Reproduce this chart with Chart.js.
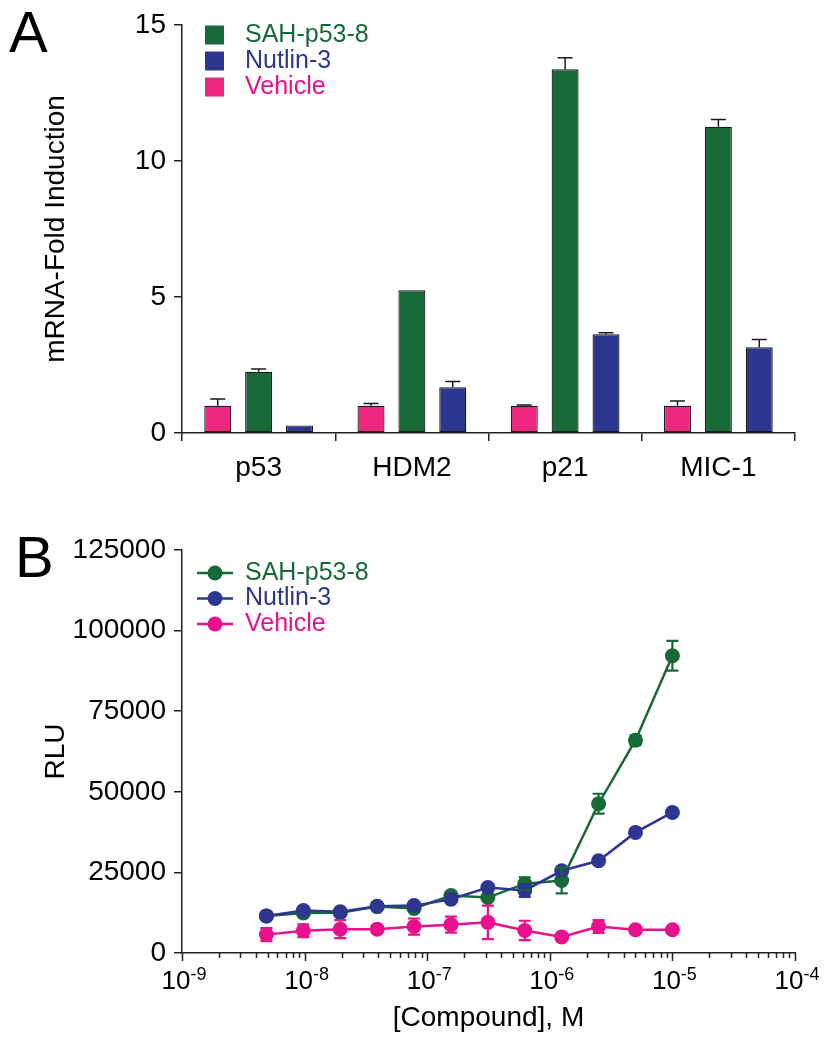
<!DOCTYPE html>
<html>
<head>
<meta charset="utf-8">
<script src="https://cdn.jsdelivr.net/npm/chart.js@4"></script>
<style>
  body { margin: 0; background: #fff; }
  .panel { position: relative; width: 829px; }
</style>
</head>
<body>
<div class="panel" style="height:490px"><canvas id="chartA"></canvas></div>
<div class="panel" style="height:560px"><canvas id="chartB"></canvas></div>
<script>
// Panel A data: mRNA fold induction
const genes = ['p53', 'HDM2', 'p21', 'MIC-1'];
const vehicleFold = [1.0, 1.0, 1.0, 1.0];
const vehicleFoldErr = [0.25, 0.08, 0.03, 0.18];
const sahFold = [2.25, 5.25, 13.37, 11.26];
const sahFoldErr = [0.1, 0, 0.43, 0.27];
const nutlinFold = [0.28, 1.68, 3.63, 3.15];
const nutlinFoldErr = [0, 0.21, 0.06, 0.29];
const foldTicks = [0, 5, 10, 15];

// Panel B data: luciferase RLU vs concentration
const concentrations = [4.88e-9, 9.77e-9, 1.953e-8, 3.906e-8, 7.8125e-8, 1.5625e-7, 3.125e-7, 6.25e-7, 1.25e-6, 2.5e-6, 5e-6, 1e-5];
const sahRLU = [11500, 12400, 12500, 14400, 13800, 17800, 17200, 21500, 22500, 46300, 66000, 92200];
const sahRLUErr = [0, 0, 0, 0, 0, 0, 0, 2000, 4000, 3100, 1500, 4600];
const nutlinRLU = [11500, 13200, 12800, 14500, 14700, 16700, 20300, 19400, 25500, 28600, 37400, 43600];
const nutlinRLUErr = [0, 0, 0, 0, 0, 0, 0, 2000, 0, 0, 0, 0];
const vehicleRLU = [5700, 6900, 7400, 7400, 8200, 8800, 9500, 7000, 5000, 8200, 7200, 7200];
const vehicleRLUErr = [2000, 2000, 2800, 0, 2500, 2500, 5200, 3000, 0, 2000, 0, 0];
const rluTicks = [0, 25000, 50000, 75000, 100000, 125000];
const decades = [-9, -8, -7, -6, -5, -4];

const GREEN = '#176937';
const BLUE = '#2E3790';
const PINK_BAR = '#EC2780';
const PINK = '#E8108C';
const AXIS = '#222';
const FONT = 'Arial, "Liberation Sans", sans-serif';

// error bars from dataset.errors, upward only for bars
const errorBars = {
  id: 'errorBars',
  afterDatasetsDraw(chart) {
    const ctx = chart.ctx;
    chart.data.datasets.forEach((ds, i) => {
      if (!ds.errors) return;
      const meta = chart.getDatasetMeta(i);
      const yScale = chart.scales[meta.yAxisID];
      ctx.save();
      ctx.strokeStyle = ds.errorColor;
      ctx.lineWidth = ds.errorWidth;
      meta.data.forEach((el, j) => {
        const err = ds.errors[j];
        if (!err) return;
        const v = chart.config.type === 'bar' ? ds.data[j] : ds.data[j].y;
        const yTop = yScale.getPixelForValue(v + err);
        const yBot = ds.upOnly ? el.y : yScale.getPixelForValue(v - err);
        const cap = ds.capWidth / 2;
        ctx.beginPath();
        ctx.moveTo(el.x, yBot);
        ctx.lineTo(el.x, yTop);
        ctx.moveTo(el.x - cap, yTop);
        ctx.lineTo(el.x + cap, yTop);
        if (!ds.upOnly) {
          ctx.moveTo(el.x - cap, yBot);
          ctx.lineTo(el.x + cap, yBot);
        }
        ctx.stroke();
      });
      ctx.restore();
    });
  }
};

// legend + panel letter drawn at fixed spots
const decor = {
  id: 'decor',
  afterDraw(chart, args, opts) {
    const ctx = chart.ctx;
    ctx.save();
    ctx.fillStyle = '#000';
    ctx.font = '58px ' + FONT;
    ctx.textBaseline = 'alphabetic';
    ctx.fillText(opts.letter, opts.letterX, opts.letterY);
    ctx.font = '25px ' + FONT;
    ctx.textBaseline = 'middle';
    opts.order.forEach((idx, k) => {
      const ds = chart.data.datasets[idx];
      const y = opts.y + k * opts.step;
      if (opts.kind === 'box') {
        ctx.fillStyle = ds.backgroundColor;
        ctx.fillRect(opts.x, y - 9.5, 19, 19);
      } else {
        ctx.strokeStyle = ds.borderColor;
        ctx.lineWidth = 2.5;
        ctx.beginPath();
        ctx.moveTo(opts.x - 18, y);
        ctx.lineTo(opts.x + 18, y);
        ctx.stroke();
        ctx.fillStyle = ds.borderColor;
        ctx.beginPath();
        ctx.arc(opts.x, y, 7.5, 0, Math.PI * 2);
        ctx.fill();
      }
      ctx.fillStyle = ds.textColor;
      ctx.fillText(ds.label, opts.textX, y);
    });
    ctx.restore();
  }
};

// log axis ticks (long at decades) and 10^n labels
const logAxisLabels = {
  id: 'logAxisLabels',
  afterDraw(chart) {
    const xs = chart.scales.x;
    const ctx = chart.ctx;
    ctx.save();
    ctx.strokeStyle = AXIS;
    ctx.lineWidth = 1.5;
    ctx.beginPath();
    xs.ticks.forEach(t => {
      const px = Math.round(xs.getPixelForValue(t.value)) + 0.5;
      const major = decades.some(d => Math.abs(Math.log10(t.value) - d) < 1e-6);
      ctx.moveTo(px, xs.top);
      ctx.lineTo(px, xs.top + (major ? 8 : 5));
    });
    ctx.stroke();
    ctx.fillStyle = '#000';
    ctx.textBaseline = 'alphabetic';
    decades.forEach(d => {
      const px = xs.getPixelForValue(Math.pow(10, d));
      ctx.font = '26px ' + FONT;
      const wBase = ctx.measureText('10').width;
      ctx.font = '18px ' + FONT;
      const exp = '-' + Math.abs(d);
      const wExp = ctx.measureText(exp).width;
      const x0 = px - (wBase + wExp) / 2 + 2;
      ctx.font = '26px ' + FONT;
      ctx.fillText('10', x0, xs.top + 36);
      ctx.font = '18px ' + FONT;
      ctx.fillText(exp, x0 + wBase, xs.top + 27);
    });
    ctx.restore();
  }
};

const tickFont = { family: FONT, size: 28 };

new Chart(document.getElementById('chartA'), {
  type: 'bar',
  data: {
    labels: genes,
    datasets: [
      { label: 'Vehicle', data: vehicleFold, errors: vehicleFoldErr, backgroundColor: PINK_BAR, textColor: PINK },
      { label: 'SAH-p53-8', data: sahFold, errors: sahFoldErr, backgroundColor: GREEN, textColor: GREEN },
      { label: 'Nutlin-3', data: nutlinFold, errors: nutlinFoldErr, backgroundColor: BLUE, textColor: BLUE }
    ].map(ds => Object.assign(ds, {
      borderColor: '#1a1a1a', borderWidth: 1.2, borderSkipped: false,
      barPercentage: 0.66, categoryPercentage: 0.8,
      errorColor: '#1a1a1a', errorWidth: 1.5, capWidth: 15, upOnly: true
    }))
  },
  options: {
    responsive: true,
    maintainAspectRatio: false,
    animation: false,
    layout: { padding: { top: 25, right: 34, left: 0, bottom: 0 } },
    plugins: {
      legend: { display: false },
      tooltip: { enabled: false },
      decor: { letter: 'A', letterX: 9, letterY: 52, kind: 'box', order: [1, 2, 0], x: 205, y: 35, step: 26, textX: 245 }
    },
    scales: {
      x: {
        offset: true,
        grid: { offset: true, drawOnChartArea: false, tickLength: 8, color: AXIS, lineWidth: 1.5 },
        border: { color: AXIS, width: 1.5 },
        ticks: { font: tickFont, color: '#000', padding: 10, maxRotation: 0 },
        afterFit: s => { s.height = 57; }
      },
      y: {
        min: 0, max: 15,
        afterBuildTicks: s => { s.ticks = foldTicks.map(v => ({ value: v })); },
        grid: { drawOnChartArea: false, tickLength: 8, color: AXIS, lineWidth: 1.5 },
        border: { color: AXIS, width: 1.5 },
        ticks: { font: tickFont, color: '#000', padding: 8 },
        title: { display: true, text: 'mRNA-Fold Induction', font: tickFont, color: '#000', padding: { top: 39 } },
        afterFit: s => { s.width = 182; }
      }
    }
  },
  plugins: [errorBars, decor]
});

const logTicks = [];
decades.forEach(d => {
  for (let m = 1; m <= 9; m++) {
    if (d === -4 && m > 1) break;
    logTicks.push(m * Math.pow(10, d));
  }
});

function points(ys) {
  return concentrations.map((c, i) => ({ x: c, y: ys[i] }));
}

new Chart(document.getElementById('chartB'), {
  type: 'line',
  data: {
    datasets: [
      { label: 'SAH-p53-8', data: points(sahRLU), errors: sahRLUErr, borderColor: GREEN, backgroundColor: GREEN, textColor: GREEN, order: 2 },
      { label: 'Nutlin-3', data: points(nutlinRLU), errors: nutlinRLUErr, borderColor: BLUE, backgroundColor: BLUE, textColor: BLUE, order: 1 },
      { label: 'Vehicle', data: points(vehicleRLU), errors: vehicleRLUErr, borderColor: PINK, backgroundColor: PINK, textColor: PINK, order: 3 }
    ].map(ds => Object.assign(ds, {
      borderWidth: 2.5, pointRadius: 7.5, pointBorderWidth: 0, pointBackgroundColor: ds.borderColor,
      tension: 0, errorColor: ds.borderColor, errorWidth: 2.2, capWidth: 12
    }))
  },
  options: {
    responsive: true,
    maintainAspectRatio: false,
    animation: false,
    layout: { padding: { top: 60, right: 34, left: 0, bottom: 0 } },
    plugins: {
      legend: { display: false },
      tooltip: { enabled: false },
      decor: { letter: 'B', letterX: 15, letterY: 87, kind: 'line', order: [0, 1, 2], x: 215, y: 83, step: 25.5, textX: 245 }
    },
    scales: {
      x: {
        type: 'logarithmic',
        min: 1e-9, max: 1e-4,
        afterBuildTicks: s => { s.ticks = logTicks.map(v => ({ value: v })); },
        grid: { display: false },
        border: { color: AXIS, width: 1.5 },
        ticks: { display: false },
        title: { display: true, text: '[Compound], M', font: tickFont, color: '#000', padding: { bottom: 15 } },
        afterFit: s => { s.height = 97; }
      },
      y: {
        min: 0, max: 125000,
        afterBuildTicks: s => { s.ticks = rluTicks.map(v => ({ value: v })); },
        grid: { drawOnChartArea: false, tickLength: 8, color: AXIS, lineWidth: 1.5 },
        border: { color: AXIS, width: 1.5 },
        ticks: { font: tickFont, color: '#000', padding: 8, callback: v => String(v) },
        title: { display: true, text: 'RLU', font: tickFont, color: '#000', padding: { top: 39 } },
        afterFit: s => { s.width = 182; }
      }
    }
  },
  plugins: [errorBars, decor, logAxisLabels]
});
</script>
</body>
</html>
